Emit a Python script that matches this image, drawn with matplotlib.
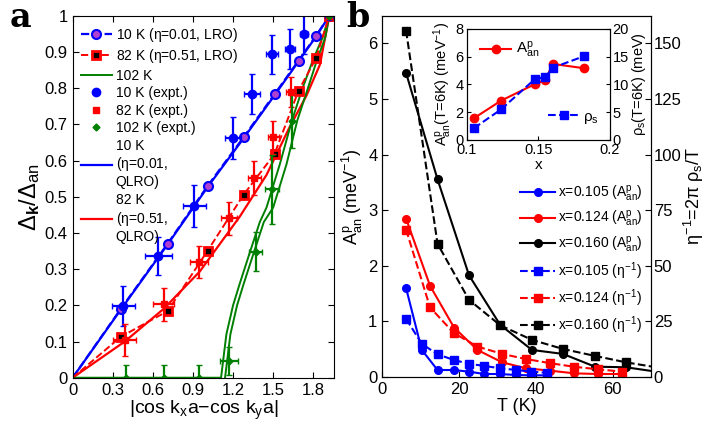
import matplotlib
matplotlib.use("Agg")
import matplotlib.pyplot as plt
from matplotlib.lines import Line2D

plt.rcParams['font.family'] = ['Liberation Sans', 'DejaVu Sans']
plt.rcParams['mathtext.fontset'] = 'custom'
plt.rcParams['mathtext.rm'] = 'Liberation Sans'
plt.rcParams['mathtext.it'] = 'Liberation Sans'
plt.rcParams['mathtext.bf'] = 'Liberation Sans:bold'
plt.rcParams['xtick.direction'] = 'in'
plt.rcParams['ytick.direction'] = 'in'

# ---------------- panel a data ----------------
# theory points (LRO), 10 K and 82 K
lro_x = [0, 0.36, 0.71, 1.01, 1.28, 1.51, 1.69, 1.82, 1.92]
lro10_y = [0, 0.19, 0.37, 0.53, 0.665, 0.783, 0.876, 0.944, 1.0]
lro82_y = [0, 0.113, 0.184, 0.351, 0.506, 0.618, 0.793, 0.882, 1.0]

# QLRO curves
qlro10_x = [0, 0.36, 0.71, 1.01, 1.28, 1.51, 1.69, 1.82, 1.92]
qlro10_y = [0, 0.188, 0.368, 0.527, 0.662, 0.78, 0.874, 0.942, 1.0]
qlro82_x = [0, 0.39, 0.68, 0.95, 1.25, 1.45, 1.62, 1.75, 1.85, 1.92]
qlro82_y = [0, 0.10, 0.19, 0.293, 0.445, 0.56, 0.69, 0.78, 0.865, 1.0]

# 102 K curves
g1_x = [0, 1.11, 1.13, 1.15, 1.20, 1.25, 1.32, 1.40, 1.45, 1.55, 1.64, 1.72, 1.80, 1.87, 1.92]
g1_y = [0, 0, 0.06, 0.12, 0.20, 0.26, 0.34, 0.43, 0.47, 0.59, 0.71, 0.80, 0.88, 0.94, 1.0]
g2_x = [1.14, 1.16, 1.18, 1.23, 1.28, 1.35, 1.43, 1.50, 1.60, 1.68, 1.76, 1.83, 1.89, 1.92]
g2_y = [0, 0.06, 0.12, 0.20, 0.26, 0.34, 0.43, 0.47, 0.59, 0.71, 0.80, 0.88, 0.94, 1.0]

# experimental points
e10_x = [0.38, 0.64, 0.91, 1.20, 1.34, 1.49, 1.625, 1.73, 1.92]
e10_y = [0.198, 0.336, 0.474, 0.661, 0.783, 0.893, 0.907, 0.949, 1.0]
e10_xerr = [0.085, 0.1, 0.085, 0.06, 0.06, 0.045, 0.04, 0.03, 0]
e10_yerr = [0.056, 0.053, 0.058, 0.058, 0.055, 0.055, 0.055, 0.055, 0]

e82_x = [0.39, 0.68, 0.945, 1.17, 1.36, 1.50, 1.63, 1.92]
e82_y = [0.104, 0.203, 0.319, 0.44, 0.552, 0.664, 0.789, 1.0]
e82_xerr = [0.087, 0.08, 0.07, 0.06, 0.05, 0.04, 0.035, 0]
e82_yerr = [0.045, 0.045, 0.044, 0.046, 0.047, 0.045, 0.042, 0]

e102_x = [0.40, 0.68, 0.945, 1.17, 1.37, 1.49, 1.64, 1.92]
e102_y = [0, 0, 0, 0.046, 0.348, 0.52, 0.71, 1.0]
e102_xerr = [0, 0, 0, 0.07, 0.05, 0.05, 0, 0]
e102_yerr = [0.035, 0.035, 0.035, 0.038, 0.054, 0.096, 0.076, 0]

# ---------------- panel b data ----------------
T_105 = [6.2, 10.3, 14.4, 18.6, 22.6, 26.6, 30.7, 34.8, 38.8, 42.9]
A_105 = [1.60, 0.487, 0.126, 0.126, 0.096, 0.054, 0.054, 0.036, 0.03, 0.03]
eta_105 = [26.2, 14.9, 10.2, 7.7, 5.9, 5.0, 3.9, 3.2, 2.4, 1.9]

T_124 = [6.2, 12.45, 18.7, 24.8, 31.2, 37.4, 43.8, 50.0, 56.1, 62.5]
A_124 = [2.85, 1.64, 0.89, 0.487, 0.265, 0.157, 0.114, 0.066, 0.054, 0.054]
eta_124 = [66.3, 31.3, 19.7, 13.7, 10.4, 8.1, 6.2, 4.6, 3.5, 2.4]

T_160 = [6.2, 14.4, 22.6, 30.7, 39.0, 47.1, 55.4, 63.5, 72.0]
A_160 = [5.47, 3.556, 1.83, 0.94, 0.487, 0.415, 0.186, 0.175, 0.09]
eta_160 = [155.8, 59.9, 34.7, 23.3, 16.7, 12.6, 9.5, 6.6, 4.2]

# inset
x_dop = [0.105, 0.124, 0.148, 0.155, 0.160, 0.182]
A_6K = [1.56, 2.83, 4.04, 4.30, 5.48, 5.17]
rho_6K = [2.1, 5.5, 11.05, 11.3, 13.0, 15.1]

fig = plt.figure(figsize=(7.07, 4.36), dpi=100)

# ================= panel a =================
ax = fig.add_axes([0.1028, 0.1337, 0.3696, 0.8303])
ax.plot(qlro10_x, qlro10_y, '-', color='blue', lw=1.6)
ax.plot(qlro82_x, qlro82_y, '-', color='red', lw=1.6)
ax.plot(g1_x, g1_y, '-', color='green', lw=1.4)
ax.plot(g2_x, g2_y, '-', color='green', lw=1.4)
ax.plot(lro_x, lro10_y, '--', color='blue', lw=1.6, marker='o', ms=6.5,
        mfc='#b040d0', mec='blue', mew=1.5, markevery=list(range(1, len(lro_x))))
ax.plot(lro_x, lro82_y, '--', color='red', lw=1.4, marker='s', ms=6,
        mfc='black', mec='red', mew=2.0, markevery=list(range(1, len(lro_x))))
ax.errorbar(e10_x, e10_y, xerr=e10_xerr, yerr=e10_yerr, fmt='o', color='blue',
            ms=6, elinewidth=1.6, capsize=2.5)
ax.errorbar(e82_x, e82_y, xerr=e82_xerr, yerr=e82_yerr, fmt='s', color='red',
            ms=5, elinewidth=1.6, capsize=2.5)
ax.errorbar(e102_x, e102_y, xerr=e102_xerr, yerr=e102_yerr, fmt='D', color='green',
            ms=3.5, elinewidth=1.6, capsize=2.5)

ax.set_xlim(0, 1.955)
ax.set_ylim(0, 1)
ax.set_xticks([0, 0.3, 0.6, 0.9, 1.2, 1.5, 1.8])
ax.set_xticklabels(['0', '0.3', '0.6', '0.9', '1.2', '1.5', '1.8'])
ax.set_yticks([0, 0.1, 0.2, 0.3, 0.4, 0.5, 0.6, 0.7, 0.8, 0.9, 1])
ax.set_yticklabels(['0', '0.1', '0.2', '0.3', '0.4', '0.5', '0.6', '0.7', '0.8', '0.9', '1'])
ax.tick_params(labelsize=12, top=True, right=True, length=4)
ax.set_xlabel(r'|cos k$_x$a$-$cos k$_y$a|', fontsize=14, labelpad=1)
ax.set_ylabel(r'$\Delta_{\mathbf{k}}/\Delta_{\mathrm{an}}$', fontsize=17, labelpad=2)

handles_a = [
    Line2D([], [], ls='--', color='blue', lw=1.6, marker='o', ms=6.5, mfc='#b040d0', mec='blue', mew=1.5),
    Line2D([], [], ls='--', color='red', lw=1.4, marker='s', ms=6, mfc='black', mec='red', mew=2.0),
    Line2D([], [], ls='-', color='green', lw=1.4),
    Line2D([], [], ls='none', color='blue', marker='o', ms=6),
    Line2D([], [], ls='none', color='red', marker='s', ms=5),
    Line2D([], [], ls='none', color='green', marker='D', ms=3.5),
    Line2D([], [], ls='-', color='blue', lw=1.6),
    Line2D([], [], ls='-', color='red', lw=1.6),
]
labels_a = [r'10 K ($\eta$=0.01, LRO)', r'82 K ($\eta$=0.51, LRO)', '102 K',
            '10 K (expt.)', '82 K (expt.)', '102 K (expt.)',
            '10 K\n' + r'($\eta$=0.01,' + '\nQLRO)', '82 K\n' + r'($\eta$=0.51,' + '\nQLRO)']
ax.legend(handles_a, labels_a, loc='upper left', frameon=False, fontsize=10,
          handlelength=2.2, handletextpad=0.3, labelspacing=0.25,
          borderaxespad=0.2, bbox_to_anchor=(0.0, 0.995))

fig.text(0.014, 0.938, 'a', fontsize=24, fontweight='bold', family='DejaVu Serif',
         va='baseline')

# ================= panel b =================
bx = fig.add_axes([0.5407, 0.1353, 0.380, 0.8287])
bx2 = bx.twinx()

l1, = bx.plot(T_105, A_105, '-o', color='blue', lw=1.5, ms=5.5)
l2, = bx.plot(T_124, A_124, '-o', color='red', lw=1.5, ms=5.5)
l3, = bx.plot(T_160, A_160, '-o', color='black', lw=1.5, ms=5.5)
l4, = bx2.plot(T_105, eta_105, '--s', color='blue', lw=1.5, ms=5.5)
l5, = bx2.plot(T_124, eta_124, '--s', color='red', lw=1.5, ms=5.5)
l6, = bx2.plot(T_160, eta_160, '--s', color='black', lw=1.5, ms=5.5)

bx.set_xlim(0, 70)
bx.set_ylim(0, 6.5)
bx2.set_ylim(0, 162.5)
bx.set_xticks([0, 20, 40, 60])
bx.set_yticks([0, 1, 2, 3, 4, 5, 6])
bx2.set_yticks([0, 25, 50, 75, 100, 125, 150])
bx.tick_params(labelsize=12, length=4)
bx2.tick_params(labelsize=12, length=4, direction='in', pad=2)
bx.set_xlabel('T (K)', fontsize=13, labelpad=1)
bx.set_ylabel(r'A$^{\mathrm{p}}_{\mathrm{an}}$ (meV$^{-1}$)', fontsize=13, labelpad=2)
bx2.set_ylabel(r'$\eta^{-1}$=2$\pi$ $\rho_\mathrm{s}$/T', fontsize=13, labelpad=0)

bx.legend([l1, l2, l3, l4, l5, l6],
          [r'x=0.105 (A$^{\mathrm{p}}_{\mathrm{an}}$)', r'x=0.124 (A$^{\mathrm{p}}_{\mathrm{an}}$)',
           r'x=0.160 (A$^{\mathrm{p}}_{\mathrm{an}}$)', r'x=0.105 ($\eta^{-1}$)',
           r'x=0.124 ($\eta^{-1}$)', r'x=0.160 ($\eta^{-1}$)'],
          loc='lower right', bbox_to_anchor=(1.0, 0.09), frameon=False, fontsize=10,
          handlelength=2.5, handletextpad=0.2, labelspacing=0.4, borderaxespad=0.2)

fig.text(0.49, 0.938, 'b', fontsize=24, fontweight='bold', family='DejaVu Serif',
         va='baseline')

# ================= inset =================
ix = fig.add_axes([0.660, 0.679, 0.2027, 0.2546])
ix2 = ix.twinx()
i1, = ix.plot(x_dop, A_6K, '-o', color='red', lw=1.5, ms=6)
i2, = ix2.plot(x_dop, rho_6K, '--s', color='blue', lw=1.5, ms=5.5)
ix.set_xlim(0.1, 0.2)
ix.set_ylim(0, 8)
ix2.set_ylim(0, 20)
ix.set_xticks([0.1, 0.15, 0.2])
ix.set_xticklabels(['0.1', '0.15', '0.2'])
ix.set_yticks([0, 2, 4, 6, 8])
ix2.set_yticks([0, 5, 10, 15, 20])
ix.tick_params(labelsize=10.5, length=3, pad=2)
ix2.tick_params(labelsize=10.5, length=3, pad=2, direction='in')
ix.set_xlabel('x', fontsize=11, labelpad=1)
ix.set_ylabel(r'A$^{\mathrm{p}}_{\mathrm{an}}$(T=6K) (meV$^{-1}$)', fontsize=10.5, labelpad=1)
ix2.set_ylabel(r'$\rho_\mathrm{s}$(T=6K) (meV)', fontsize=10.5, labelpad=1)
ix.legend([i1], [r'A$^{\mathrm{p}}_{\mathrm{an}}$'], loc='upper left', frameon=False,
          fontsize=11, handlelength=2.0, handletextpad=0.3, bbox_to_anchor=(0.0, 1.02))
ix2.legend([i2], [r'$\rho_\mathrm{s}$'], loc='center right', frameon=False,
           fontsize=11, handlelength=2.0, handletextpad=0.3, bbox_to_anchor=(1.02, 0.2))

fig.savefig('out.png', dpi=100)
